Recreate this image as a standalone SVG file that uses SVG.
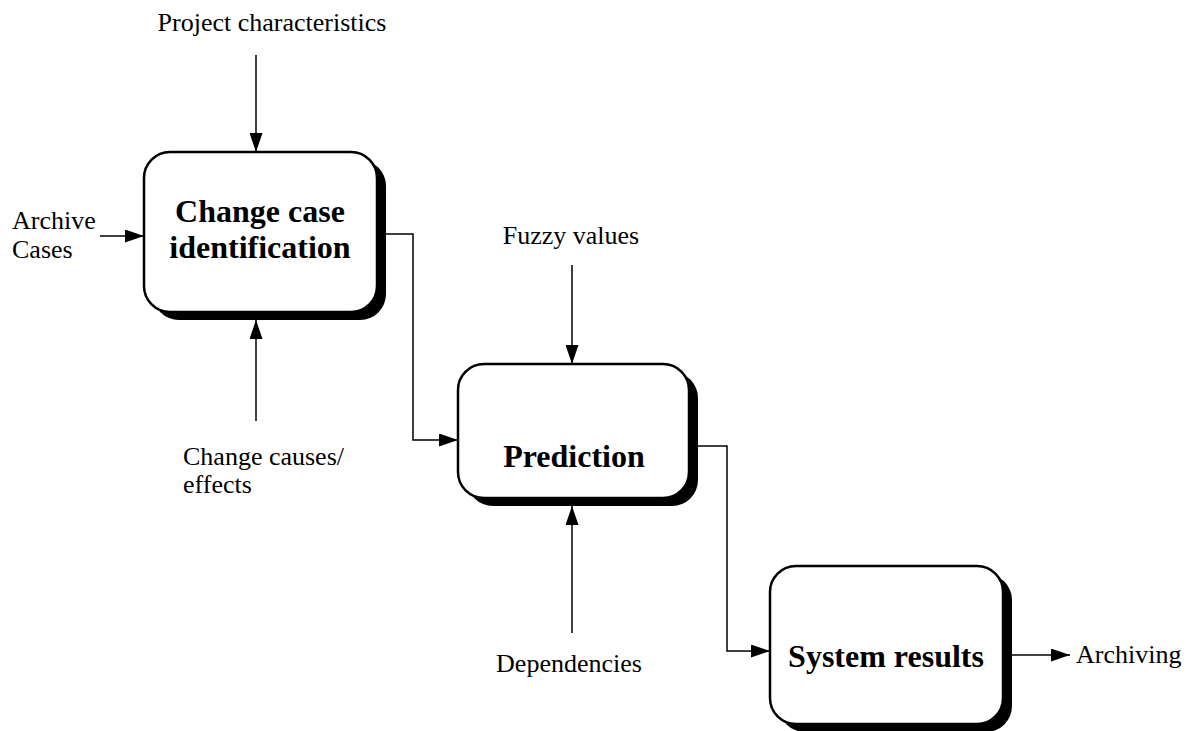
<svg xmlns="http://www.w3.org/2000/svg" width="1192" height="731" viewBox="0 0 1192 731">
<defs>
<marker id="ah" viewBox="0 0 19 13" refX="19" refY="6.5" markerWidth="19" markerHeight="13" markerUnits="userSpaceOnUse" orient="auto">
<path d="M0,0 L19,6.5 L0,13 Z" fill="#000"/>
</marker>
<style>
.box{fill:#fff;stroke:#000;stroke-width:2.5}
.shadow{fill:#000}
.title{font-family:"Liberation Serif",serif;font-weight:bold;font-size:32px;text-anchor:middle}
.lbl{font-family:"Liberation Serif",serif;font-size:26px}
.conn{fill:none;stroke:#000;stroke-width:1.5}
</style>
</defs>
<rect width="1192" height="731" fill="#fff"/>
<g id="node-change-case">
<rect class="shadow" x="153" y="160" width="233" height="160" rx="26"/>
<rect class="box" x="144" y="152" width="233" height="160" rx="26"/>
<text class="title" x="260" y="222">Change case</text>
<text class="title" x="260" y="258">identification</text>
</g>
<g id="node-prediction">
<rect class="shadow" x="467" y="372" width="231" height="134" rx="26"/>
<rect class="box" x="458" y="364" width="231" height="134" rx="26"/>
<text class="title" x="574" y="467">Prediction</text>
</g>
<g id="node-system-results">
<rect class="shadow" x="779" y="574" width="233" height="158" rx="26"/>
<rect class="box" x="770" y="566" width="233" height="158" rx="26"/>
<text class="title" x="886" y="667">System results</text>
</g>
<g id="labels">
<text class="lbl" x="272" y="31" text-anchor="middle">Project characteristics</text>
<text class="lbl" x="12" y="229">Archive</text>
<text class="lbl" x="12" y="258">Cases</text>
<text class="lbl" x="183" y="465">Change causes/</text>
<text class="lbl" x="183" y="493">effects</text>
<text class="lbl" x="571" y="244" text-anchor="middle">Fuzzy values</text>
<text class="lbl" x="569" y="672" text-anchor="middle">Dependencies</text>
<text class="lbl" x="1076" y="663">Archiving</text>
</g>
<g id="connectors">
<line class="conn" x1="256" y1="55" x2="256" y2="152" marker-end="url(#ah)"/>
<line class="conn" x1="100" y1="236" x2="144" y2="236" marker-end="url(#ah)"/>
<line class="conn" x1="256" y1="421" x2="256" y2="320" marker-end="url(#ah)"/>
<polyline class="conn" points="386,234 413,234 413,440 458,440" marker-end="url(#ah)"/>
<line class="conn" x1="572" y1="265" x2="572" y2="364" marker-end="url(#ah)"/>
<line class="conn" x1="572" y1="633" x2="572" y2="506" marker-end="url(#ah)"/>
<polyline class="conn" points="698,446 727,446 727,651 770,651" marker-end="url(#ah)"/>
<line class="conn" x1="1012" y1="655" x2="1070" y2="655" marker-end="url(#ah)"/>
</g>
</svg>
